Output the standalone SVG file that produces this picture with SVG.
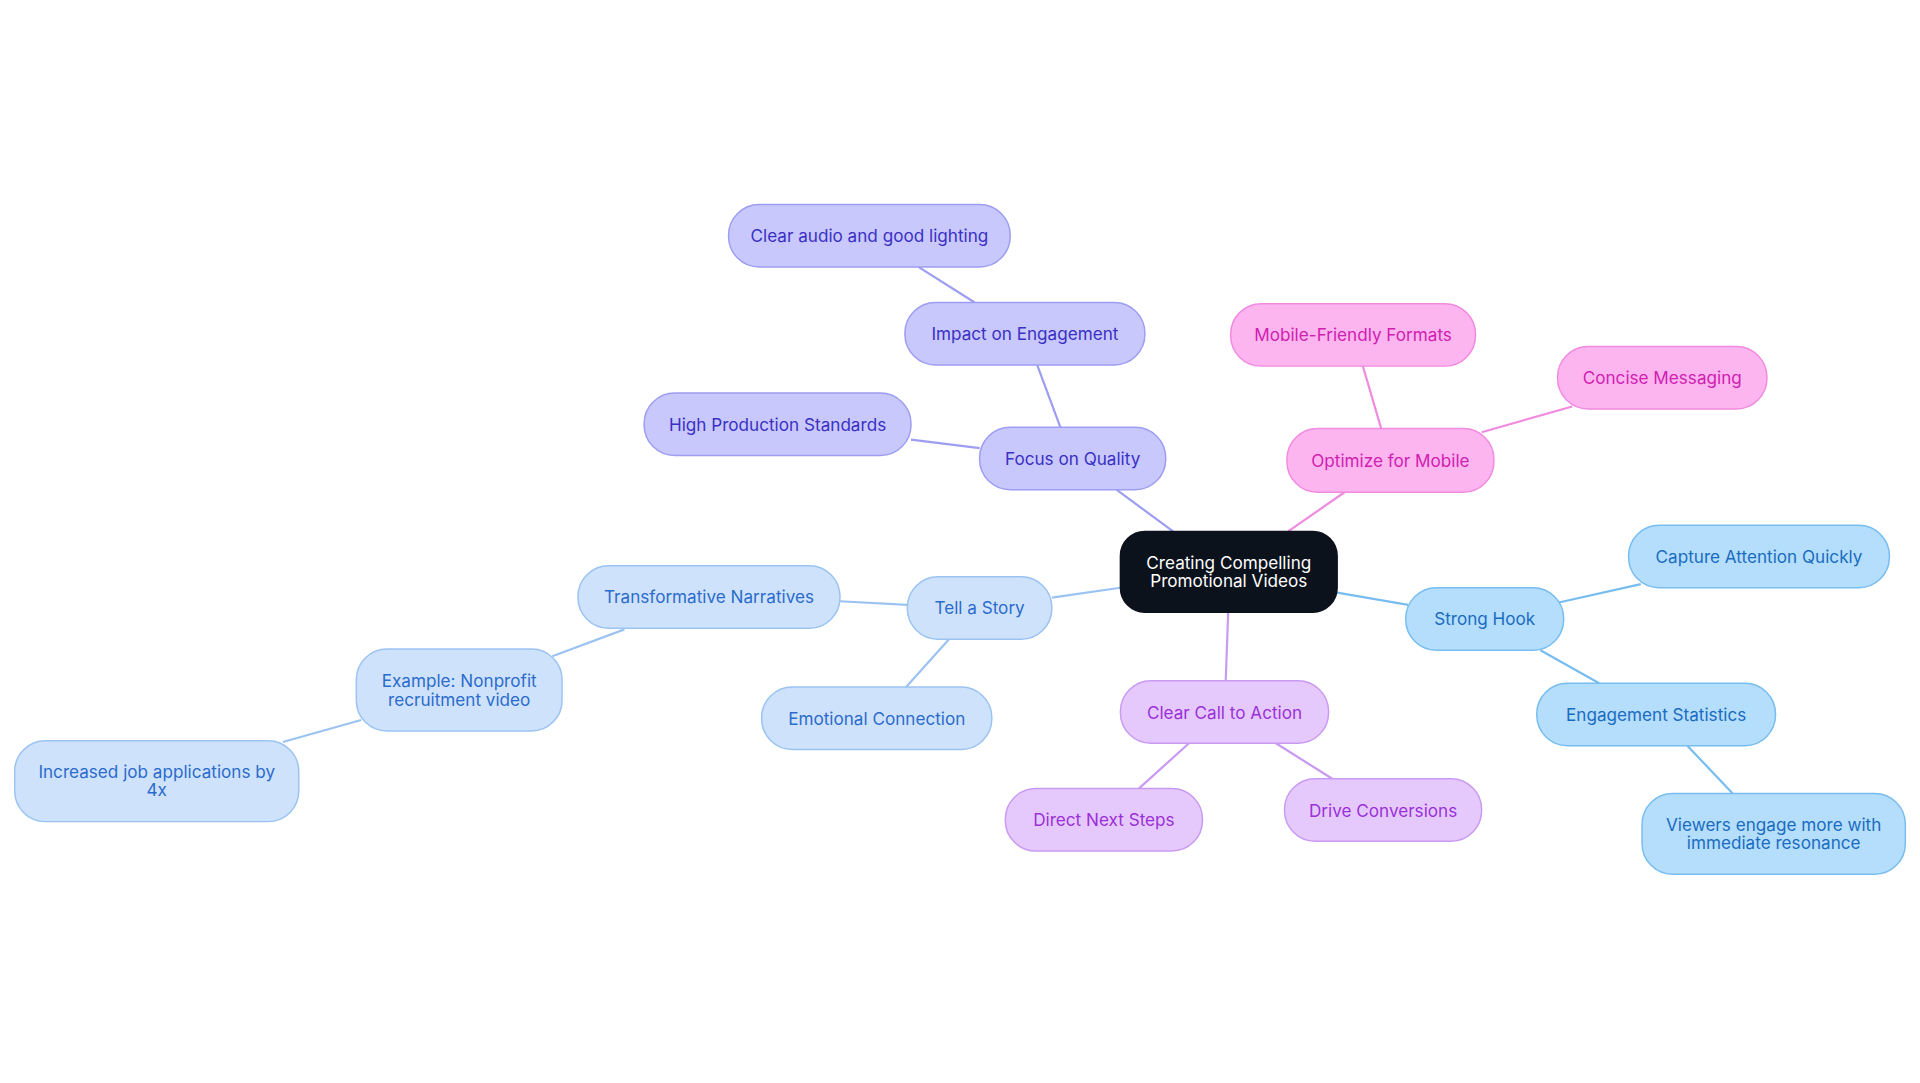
<svg xmlns="http://www.w3.org/2000/svg" width="1920" height="1083" viewBox="0 0 1920 1083">
<style>
text{font-family:Inter,"Noto Sans",sans-serif;font-size:14px;text-anchor:middle;dominant-baseline:central}
.e{fill:none;stroke-width:1.8}
.b rect{fill:#b4defc;stroke:#78bdf0}.b text{fill:#1a6cc0}
.l rect{fill:#cfe2fb;stroke:#9bc3f2}.l text{fill:#2a6ccc}
.p rect{fill:#e6c9fc;stroke:#c99af2}.p text{fill:#9a30d8}
.k rect{fill:#fdb5f0;stroke:#f08be0}.k text{fill:#d020b0}
.v rect{fill:#c8c8fc;stroke:#9d9df2}.v text{fill:#3a30c4}
rect{stroke-width:1.2}
</style>
<rect width="1920" height="1083" fill="#fff"/>
<g transform="scale(1.2245)">
<g id="connectors">
<path class="e" stroke="#78bdf0" d="M1092,484L1150,494M1273,492L1340,477M1258,531L1306,558M1378,609L1415,648"/>
<path class="e" stroke="#c99af2" d="M1003,500L1001,556M971,607L930,644M1042,607L1088,636"/>
<path class="e" stroke="#f08be0" d="M1052,434L1098,402M1128,350L1113,299M1210,353L1284,332"/>
<path class="e" stroke="#9d9df2" d="M958,434L912,400M800,366L744,359M866,349L847,298M796,247L750,218"/>
<path class="e" stroke="#9bc3f2" d="M915,480L859,488M741,494L686,491M775,522L740,561M510,514L451,536M295,588L231,606"/>
</g>
<g id="center"><rect x="915" y="434" width="177" height="66" rx="20" fill="#0c121c" stroke="#0c121c"/><text fill="#fff" x="1003.5" y="459">Creating Compelling</text><text fill="#fff" x="1003.5" y="474">Promotional Videos</text></g>
<g id="strong" class="b"><rect x="1148" y="480" width="129" height="51" rx="25"/><text x="1212.5" y="505.5">Strong Hook</text></g>
<g id="capture" class="b"><rect x="1330" y="429" width="213" height="51" rx="25"/><text x="1436.5" y="454.5">Capture Attention Quickly</text></g>
<g id="engstats" class="b"><rect x="1255" y="558" width="195" height="51" rx="25"/><text x="1352.5" y="583.5">Engagement Statistics</text></g>
<g id="viewers" class="b"><rect x="1341" y="648" width="215" height="66" rx="25"/><text x="1448.5" y="673">Viewers engage more with</text><text x="1448.5" y="688">immediate resonance</text></g>
<g id="cta" class="p"><rect x="915" y="556" width="170" height="51" rx="25"/><text x="1000" y="581.5">Clear Call to Action</text></g>
<g id="direct" class="p"><rect x="821" y="644" width="161" height="51" rx="25"/><text x="901.5" y="669.5">Direct Next Steps</text></g>
<g id="drive" class="p"><rect x="1049" y="636" width="161" height="51" rx="25"/><text x="1129.5" y="661.5">Drive Conversions</text></g>
<g id="optimize" class="k"><rect x="1051" y="350" width="169" height="52" rx="25"/><text x="1135.5" y="376">Optimize for Mobile</text></g>
<g id="mobile" class="k"><rect x="1005" y="248" width="200" height="51" rx="25"/><text x="1105" y="273.5">Mobile-Friendly Formats</text></g>
<g id="concise" class="k"><rect x="1272" y="283" width="171" height="51" rx="25"/><text x="1357.5" y="308.5">Concise Messaging</text></g>
<g id="quality" class="v"><rect x="800" y="349" width="152" height="51" rx="25"/><text x="876" y="374.5">Focus on Quality</text></g>
<g id="high" class="v"><rect x="526" y="321" width="218" height="51" rx="25"/><text x="635" y="346.5">High Production Standards</text></g>
<g id="impact" class="v"><rect x="739" y="247" width="196" height="51" rx="25"/><text x="837" y="272.5">Impact on Engagement</text></g>
<g id="audio" class="v"><rect x="595" y="167" width="230" height="51" rx="25"/><text x="710" y="192.5">Clear audio and good lighting</text></g>
<g id="story" class="l"><rect x="741" y="471" width="118" height="51" rx="25"/><text x="800" y="496.5">Tell a Story</text></g>
<g id="trans" class="l"><rect x="472" y="462" width="214" height="51" rx="25"/><text x="579" y="487.5">Transformative Narratives</text></g>
<g id="emotional" class="l"><rect x="622" y="561" width="188" height="51" rx="25"/><text x="716" y="586.5">Emotional Connection</text></g>
<g id="example" class="l"><rect x="291" y="530" width="168" height="67" rx="25"/><text x="375" y="556">Example: Nonprofit</text><text x="375" y="571">recruitment video</text></g>
<g id="increased" class="l"><rect x="12" y="605" width="232" height="66" rx="25"/><text x="128" y="630">Increased job applications by</text><text x="128" y="645">4x</text></g>
</g>
</svg>
